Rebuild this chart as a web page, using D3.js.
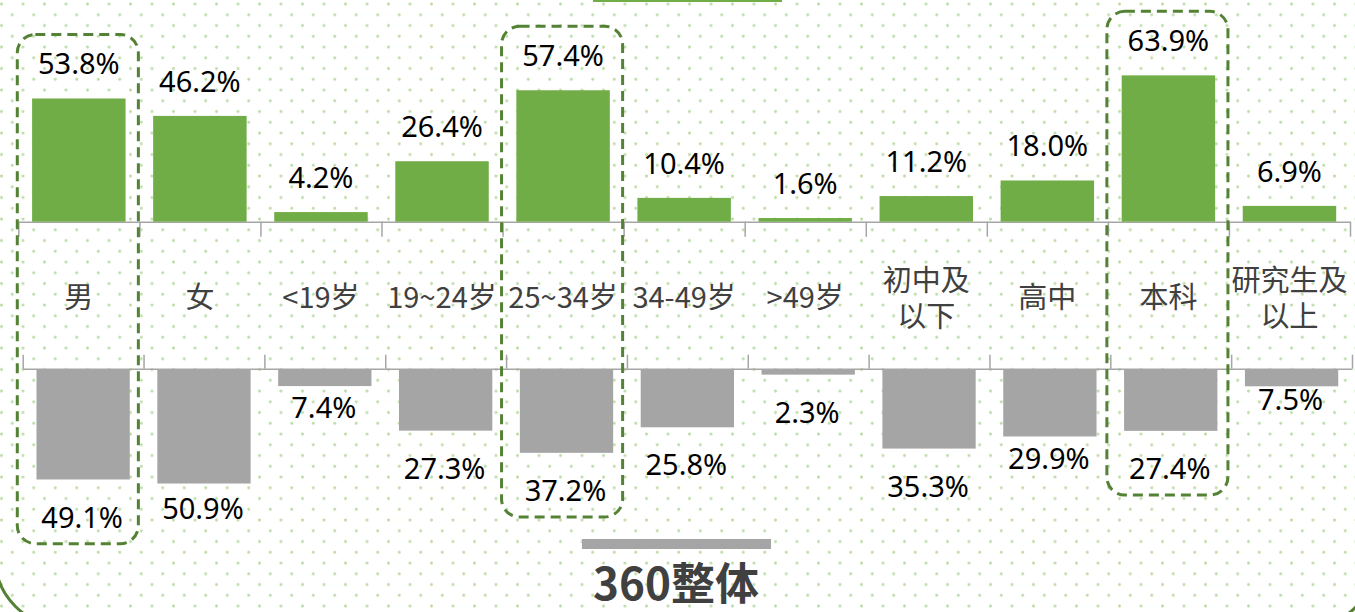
<!DOCTYPE html>
<html>
<head>
<meta charset="utf-8">
<script src="https://cdn.jsdelivr.net/npm/d3@7"></script>
<style>
  body { margin: 0; background: #fff; }
  svg { display: block; }
  .cat-label { font-family: "Noto Sans CJK SC", "Noto Sans", sans-serif; font-size: 29px; fill: #404040; }
  .val-label { font-family: "Noto Sans", "Noto Sans CJK SC", sans-serif; font-size: 29px; fill: #000; }
  .axis path, .axis line { stroke: #a6a6a6; stroke-width: 1.5; }
</style>
</head>
<body>
<div id="chart"></div>
<script>
// data
const categories = ["男", "女", "<19岁", "19~24岁", "25~34岁", "34-49岁", ">49岁", "初中及\n以下", "高中", "本科", "研究生及\n以上"];
const topValues = [53.8, 46.2, 4.2, 26.4, 57.4, 10.4, 1.6, 11.2, 18.0, 63.9, 6.9];
const bottomValues = [49.1, 50.9, 7.4, 27.3, 37.2, 25.8, 2.3, 35.3, 29.9, 27.4, 7.5];
const highlighted = ["男", "25~34岁", "本科"];
const bottomSeriesName = "360整体";

document.addEventListener('DOMContentLoaded', () => {
  // 1. basic sizes
  const width = 1355;
  const height = 612;
  const green = "#70AD47";
  const grey = "#A5A5A5";
  const darkGreen = "#548235";
  const pad = 0.228; // band padding (bar width ~77% of cell)

  const svg = d3.select("#chart")
    .append("svg")
    .attr("width", width)
    .attr("height", height);

  // 2. dotted background
  const defs = svg.append("defs");
  const pat = defs.append("pattern")
    .attr("id", "dots")
    .attr("patternUnits", "userSpaceOnUse")
    .attr("width", 21.5)
    .attr("height", 21.5);
  pat.append("circle").attr("cx", 1.5).attr("cy", 4).attr("r", 1.5).attr("fill", "#bcdca6");
  pat.append("circle").attr("cx", 12.25).attr("cy", 14.75).attr("r", 1.5).attr("fill", "#bcdca6");
  svg.append("rect").attr("width", width).attr("height", height).attr("fill", "url(#dots)");

  // outer rounded frame (only the corner shows)
  svg.append("rect")
    .attr("x", -5).attr("y", -200)
    .attr("width", 1382).attr("height", 827)
    .attr("rx", 70)
    .attr("fill", "none")
    .attr("stroke", darkGreen)
    .attr("stroke-width", 3);

  // 3. scales
  const xTop = d3.scaleBand().domain(categories).range([18.3, 1350]).paddingInner(pad).paddingOuter(pad / 2);
  const xBottom = d3.scaleBand().domain(categories).range([22.7, 1352]).paddingInner(pad).paddingOuter(pad / 2);
  const yTop = d3.scaleLinear().domain([0, 100]).range([221.7, -7.3]);
  const yBottom = d3.scaleLinear().domain([0, 100]).range([368.7, 592.7]);

  // tick positions sit on the cell borders
  const edgeTop = d3.scaleLinear().domain([0, categories.length]).range(xTop.range());
  const edgeBottom = d3.scaleLinear().domain([0, categories.length]).range(xBottom.range());

  // 4. axes
  svg.append("g")
    .attr("class", "axis")
    .attr("transform", `translate(0,${yTop(0)})`)
    .call(d3.axisBottom(edgeTop).tickValues(d3.range(categories.length + 1)).tickFormat("").tickSize(15).tickSizeOuter(0));

  svg.append("g")
    .attr("class", "axis")
    .attr("transform", `translate(0,${yBottom(0)})`)
    .call(d3.axisTop(edgeBottom).tickValues(d3.range(categories.length + 1)).tickFormat("").tickSize(14).tickSizeOuter(0));

  // 5. bars
  svg.selectAll(".bar-top")
    .data(categories)
    .enter()
    .append("rect")
    .attr("class", "bar-top")
    .attr("x", d => xTop(d))
    .attr("width", xTop.bandwidth())
    .attr("y", (d, i) => yTop(topValues[i]))
    .attr("height", (d, i) => yTop(0) - yTop(topValues[i]))
    .attr("fill", green);

  svg.selectAll(".bar-bottom")
    .data(categories)
    .enter()
    .append("rect")
    .attr("class", "bar-bottom")
    .attr("x", d => xBottom(d))
    .attr("width", xBottom.bandwidth())
    .attr("y", yBottom(0) + 0.8)
    .attr("height", (d, i) => yBottom(bottomValues[i]) - yBottom(0))
    .attr("fill", grey);

  // 6. value labels
  svg.selectAll(".val-top")
    .data(categories)
    .enter()
    .append("text")
    .attr("class", "val-label")
    .attr("text-anchor", "middle")
    .attr("x", d => xTop(d) + xTop.bandwidth() / 2)
    .attr("y", (d, i) => yTop(topValues[i]) - 24)
    .text((d, i) => topValues[i].toFixed(1) + "%");

  // some labels sit closer to their bar in the original
  const closeGap = { "女": 15, "<19岁": 12, "高中": 12, "研究生及\n以上": 3 };
  svg.selectAll(".val-bottom")
    .data(categories)
    .enter()
    .append("text")
    .attr("class", "val-label")
    .attr("text-anchor", "middle")
    .attr("x", d => xBottom(d) + xBottom.bandwidth() / 2 - 1)
    .attr("y", (d, i) => yBottom(bottomValues[i]) + (closeGap[d] != null ? closeGap[d] : 28) + 21)
    .text((d, i) => bottomValues[i].toFixed(1) + "%");

  // 7. category labels between the two charts (one text per line)
  const catLines = [];
  categories.forEach(c => {
    const lines = c.split("\n");
    const y0 = lines.length > 1 ? 291 : 308;
    lines.forEach((ln, k) => catLines.push({ cat: c, text: ln, y: y0 + k * 36 }));
  });
  svg.selectAll(".cat")
    .data(catLines)
    .enter()
    .append("text")
    .attr("class", "cat-label")
    .attr("text-anchor", "middle")
    .attr("x", d => xTop(d.cat) + xTop.bandwidth() / 2)
    .attr("y", d => d.y)
    .text(d => d.text);

  // 8. dashed highlight boxes
  highlighted.forEach(c => {
    const i = categories.indexOf(c);
    const top = yTop(topValues[i]) - 24 - 40;
    const bottom = yBottom(bottomValues[i]) + 28 + 21 + 16;
    svg.append("rect")
      .attr("x", xTop(c) - xTop.step() * pad / 2 - 1)
      .attr("y", top)
      .attr("width", xTop.step())
      .attr("height", bottom - top)
      .attr("rx", 18)
      .attr("fill", "none")
      .attr("stroke", darkGreen)
      .attr("stroke-width", 3)
      .attr("stroke-dasharray", "10 6");
  });

  // 9. legend swatches
  svg.append("rect").attr("x", 593).attr("y", -2).attr("width", 189).attr("height", 4).attr("fill", green);
  svg.append("rect").attr("x", 582).attr("y", 539).attr("width", 189).attr("height", 10).attr("fill", grey);
  svg.append("text")
    .attr("x", 676)
    .attr("y", 600)
    .attr("text-anchor", "middle")
    .style("font-family", '"Noto Sans CJK SC", sans-serif')
    .style("font-weight", "bold")
    .style("font-size", "44px")
    .style("fill", "#404040")
    .text(bottomSeriesName);
});
</script>
</body>
</html>
